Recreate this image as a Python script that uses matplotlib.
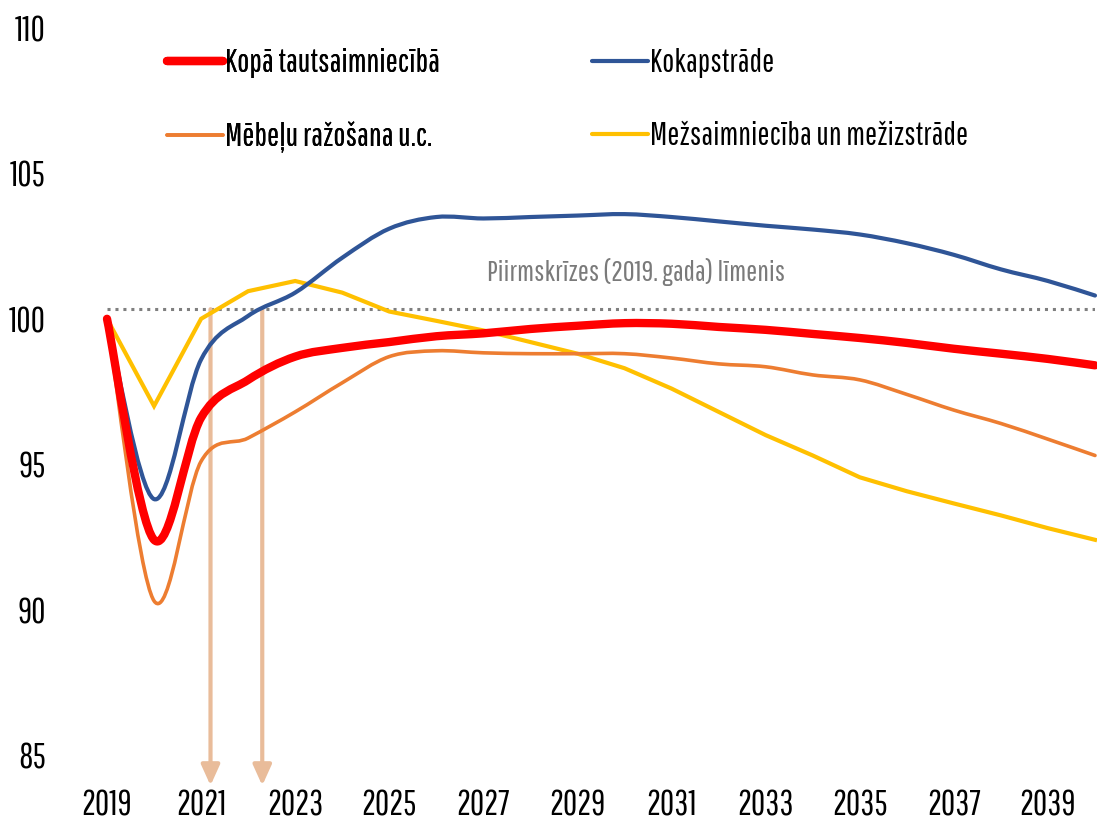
import numpy as np
import matplotlib.pyplot as plt
from matplotlib.path import Path
from matplotlib.patches import PathPatch
from matplotlib.lines import Line2D

plt.rcParams['font.family'] = ['Pathway Gothic One', 'Roboto Condensed', 'Liberation Sans']

years = list(range(2019, 2041))
total = [100, 92.4, 96.6, 97.9, 98.7, 99.0, 99.2, 99.4, 99.5, 99.65, 99.76, 99.85,
         99.83, 99.72, 99.62, 99.48, 99.34, 99.17, 98.97, 98.8, 98.62, 98.4]
wood = [100, 93.8, 98.6, 100.1, 100.9, 102.1, 103.1, 103.5, 103.45, 103.5, 103.55, 103.6,
        103.5, 103.35, 103.2, 103.07, 102.9, 102.6, 102.2, 101.7, 101.3, 100.8]
furniture = [100, 90.3, 95.1, 95.9, 96.8, 97.8, 98.7, 98.9, 98.83, 98.8, 98.8, 98.8,
             98.65, 98.45, 98.35, 98.07, 97.9, 97.4, 96.86, 96.4, 95.86, 95.3]
forestry = [100, 97.0, 100.0, 100.95, 101.3, 100.9, 100.25, 99.93, 99.6, 99.2, 98.8, 98.3,
            97.6, 96.8, 96.0, 95.3, 94.55, 94.07, 93.65, 93.24, 92.8, 92.4]

labels = ['Kopā tautsaimniecībā', 'Kokapstrāde', 'Mēbeļu ražošana u.c.', 'Mežsaimniecība un mežizstrāde']
colors = ['#FF0000', '#2F5597', '#ED7D31', '#FFC000']
widths = [6.0, 3.0, 2.6, 3.0]

precrisis_level = 100.33
precrisis_label = 'Piirmskrīzes (2019. gada) līmenis'
arrow_years = [2021.2, 2022.3]
xticks = list(range(2019, 2040, 2))
yticks = [85, 90, 95, 100, 105, 110]


def smooth_path(x, y):
    # excel-like smoothed line: bezier segments with catmull-rom tangents
    p = np.column_stack([x, y]).astype(float)
    pp = np.vstack([p[0], p, p[-1]])
    verts = [p[0]]
    codes = [Path.MOVETO]
    for i in range(len(p) - 1):
        c1 = pp[i + 1] + (pp[i + 2] - pp[i]) / 6
        c2 = pp[i + 2] - (pp[i + 3] - pp[i + 1]) / 6
        verts += [c1, c2, pp[i + 2]]
        codes += [Path.CURVE4] * 3
    return Path(verts, codes)


fig = plt.figure(figsize=(10.97, 8.23), dpi=100)
ax = fig.add_axes([107 / 1097, 68 / 823, 988 / 1097, 727 / 823])

# pre-crisis level
ax.plot([years[0], years[-1]], [precrisis_level, precrisis_level], color='#7F7F7F', lw=2.2,
        linestyle=(0, (1, 1.6)), dash_capstyle='butt', zorder=1)
ax.text(2030.25, 101.62, precrisis_label, color='#7A7A7A', fontsize=21, ha='center', va='center')

# arrows
for xa in arrow_years:
    ax.annotate('', xy=(xa, 83.95), xytext=(xa, precrisis_level), annotation_clip=False,
                arrowprops=dict(arrowstyle='-|>,head_length=0.62,head_width=0.28', color='#E9BC9A',
                                lw=3, mutation_scale=20, shrinkA=0, shrinkB=0), zorder=2)

series = [total, wood, furniture, forestry]
order = [3, 2, 1, 0]
for i in order:
    if i == 3:
        ax.plot(years, series[i], color=colors[i], lw=widths[i], solid_joinstyle='miter',
                clip_on=False, zorder=3)
    else:
        patch = PathPatch(smooth_path(years, series[i]), fill=False, edgecolor=colors[i],
                          lw=widths[i], capstyle='round', joinstyle='round', clip_on=False,
                          zorder=3 + (3 - i))
        ax.add_patch(patch)

ax.set_xlim(2019, 2040)
ax.set_ylim(85, 110)
ax.set_xticks(xticks)
ax.set_yticks(yticks)
ax.tick_params(length=0, labelsize=25, colors='#000000')
ax.tick_params(axis='y', pad=44)
ax.tick_params(axis='x', pad=24)
for s in ax.spines.values():
    s.set_visible(False)

handles = [Line2D([], [], color=c, lw=w, solid_capstyle='round') for c, w in zip(colors, widths)]
leg_kw = dict(loc='upper left', frameon=False, fontsize=23, handlelength=1.75,
              handletextpad=0.08, labelspacing=1.35, borderpad=0, borderaxespad=0)
leg1 = fig.legend([handles[0], handles[2]], [labels[0], labels[2]],
                  bbox_to_anchor=(167 / 1097, 1 - 48 / 823), **leg_kw)
leg2 = fig.legend([handles[1], handles[3]], [labels[1], labels[3]],
                  bbox_to_anchor=(592 / 1097, 1 - 48 / 823), **leg_kw)
fig.add_artist(leg1)

fig.savefig('out.png', dpi=100)
